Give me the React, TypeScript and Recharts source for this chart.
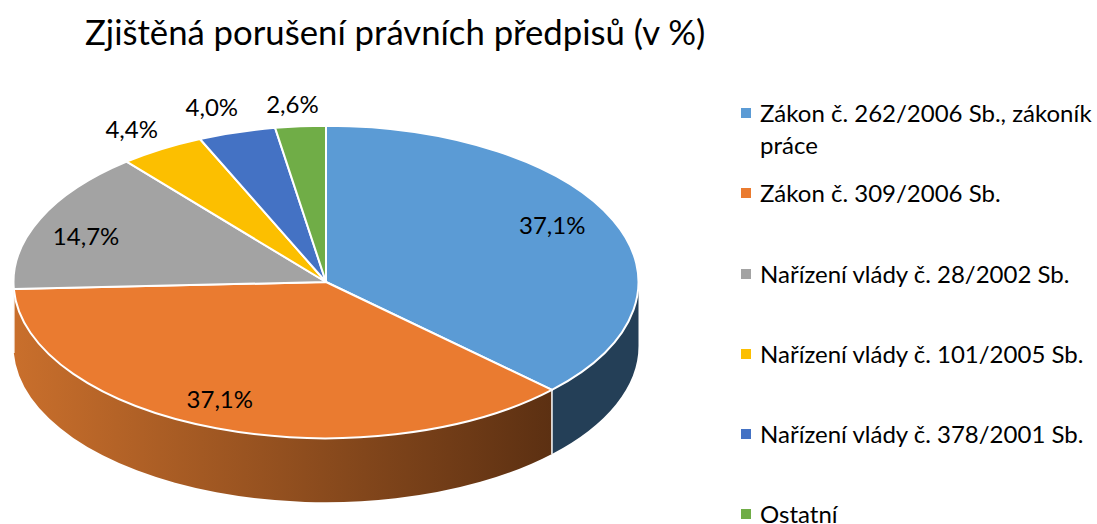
import React from 'react';
import { PieChart, Pie, Cell, Legend } from 'recharts';

const FONT = 'Lato, sans-serif';

const CATEGORIES = [
  'Zákon č. 262/2006 Sb., zákoník práce',
  'Zákon č. 309/2006 Sb.',
  'Nařízení vlády č. 28/2002 Sb.',
  'Nařízení vlády č. 101/2005 Sb.',
  'Nařízení vlády č. 378/2001 Sb.',
  'Ostatní',
];
const VALUES = [37.1, 37.1, 14.7, 4.4, 4.0, 2.6];
const COLORS = ['#5B9BD5', '#EA7B30', '#A3A3A3', '#FCBF00', '#4472C4', '#70AD47'];
const SIDE_COLORS = ['#243F57', 'url(#orangeSide)', '#C76E2E', '#997300', '#29447A', '#43682B'];

// label placement, as a share of the radius plus a nudge in pixels
const LABEL_RADIUS = [0.85, 0.85, 0.85, 1, 1, 1];
const LABEL_NUDGE = [[-18, -5], [-13, -8], [3, 7], [-30, -21], [-25, -26], [-8, -23]];

const data = CATEGORIES.map((name, i) => ({ name, value: VALUES[i] }));

const TILT = 0.5; // the pie is squashed to an ellipse
const DEPTH = 64;
const RAD = Math.PI / 180;

const point = (cx, cy, r, angle, dy = 0) => [
  cx + r * Math.cos(-angle * RAD),
  cy + r * TILT * Math.sin(-angle * RAD) + dy,
];

// one slice: the wall below the rim (front half only) and the flat top
const EllipseSector = (props) => {
  const { cx, cy, outerRadius: r, startAngle, endAngle, fill, index } = props;
  const rx = r;
  const ry = r * TILT;
  const [x1, y1] = point(cx, cy, r, startAngle);
  const [x2, y2] = point(cx, cy, r, endAngle);
  const large = startAngle - endAngle > 180 ? 1 : 0;
  const top = `M${cx},${cy} L${x1},${y1} A${rx},${ry} 0 ${large} 1 ${x2},${y2} Z`;

  // wall is visible between math angles 0 and -180
  const wallStart = Math.min(startAngle, 0);
  const wallEnd = Math.max(endAngle, -180);
  let wall = null;
  if (wallStart > wallEnd) {
    const [ax, ay] = point(cx, cy, r, wallStart);
    const [bx, by] = point(cx, cy, r, wallEnd);
    const d = `M${ax},${ay} A${rx},${ry} 0 0 1 ${bx},${by} L${bx},${by + DEPTH} A${rx},${ry} 0 0 0 ${ax},${ay + DEPTH} Z`;
    wall = (
      <g>
        <path d={d} fill={SIDE_COLORS[index]} />
        {wallStart < 0 && <line x1={ax} y1={ay} x2={ax} y2={ay + DEPTH} stroke="#fff" strokeWidth={1.5} />}
      </g>
    );
  }
  return (
    <g>
      {wall}
      <path d={top} fill={fill} stroke="#fff" strokeWidth={2} strokeLinejoin="round" />
    </g>
  );
};

const renderLabel = (props) => {
  const { cx, cy, midAngle, outerRadius, index, value } = props;
  const [x, y] = point(cx, cy, outerRadius * LABEL_RADIUS[index], midAngle);
  return (
    <text
      x={x + LABEL_NUDGE[index][0]}
      y={y + LABEL_NUDGE[index][1]}
      textAnchor="middle"
      dominantBaseline="central"
      fontFamily={FONT}
      fontSize={24}
      fill="#000"
    >
      {value.toFixed(1).replace('.', ',')}%
    </text>
  );
};

const renderLegend = ({ payload }) => (
  <div style={{ fontFamily: FONT, fontSize: 24, lineHeight: '32px', color: '#000' }}>
    {payload.map((item, i) => {
      const last = i === payload.length - 1;
      return (
        <div key={i} style={{ display: 'flex', height: last ? 26 : 80.25 }}>
          <span style={{ width: 10, height: 10, marginTop: 11, marginRight: 9, flex: 'none', background: item.color }} />
          <span style={{ width: 340, ...(last ? { lineHeight: '20px', marginTop: 6 } : {}) }}>{item.value}</span>
        </div>
      );
    })}
  </div>
);

const App = () => (
  <div style={{ position: 'absolute', left: 0, top: 0, width: 1097, height: 524, overflow: 'hidden', background: '#fff' }}>
    <div style={{ position: 'absolute', left: 85, top: 11, fontFamily: FONT, fontSize: 34.7, lineHeight: '42px', whiteSpace: 'nowrap', color: '#000' }}>
      Zjištěná porušení právních předpisů (v %)
    </div>
    <PieChart width={1097} height={524} margin={{ top: 0, right: 0, bottom: 0, left: 0 }}>
      <defs>
        <linearGradient id="orangeSide" gradientUnits="userSpaceOnUse" x1={14} y1={0} x2={552} y2={0}>
          <stop offset="0%" stopColor="#C96F2C" />
          <stop offset="100%" stopColor="#5C3012" />
        </linearGradient>
      </defs>
      <Pie
        data={data}
        dataKey="value"
        nameKey="name"
        cx={326}
        cy={282}
        outerRadius={312.5}
        startAngle={90}
        endAngle={-270}
        stroke="none"
        shape={EllipseSector}
        label={renderLabel}
        labelLine={false}
        isAnimationActive={false}
      >
        {data.map((entry, index) => (
          <Cell key={`cell-${index}`} fill={COLORS[index]} />
        ))}
      </Pie>
      <Legend
        content={renderLegend}
        itemSorter={null}
        wrapperStyle={{ position: 'absolute', left: 741, top: 97, width: 356, bottom: 'auto' }}
      />
    </PieChart>
  </div>
);

export default App;
